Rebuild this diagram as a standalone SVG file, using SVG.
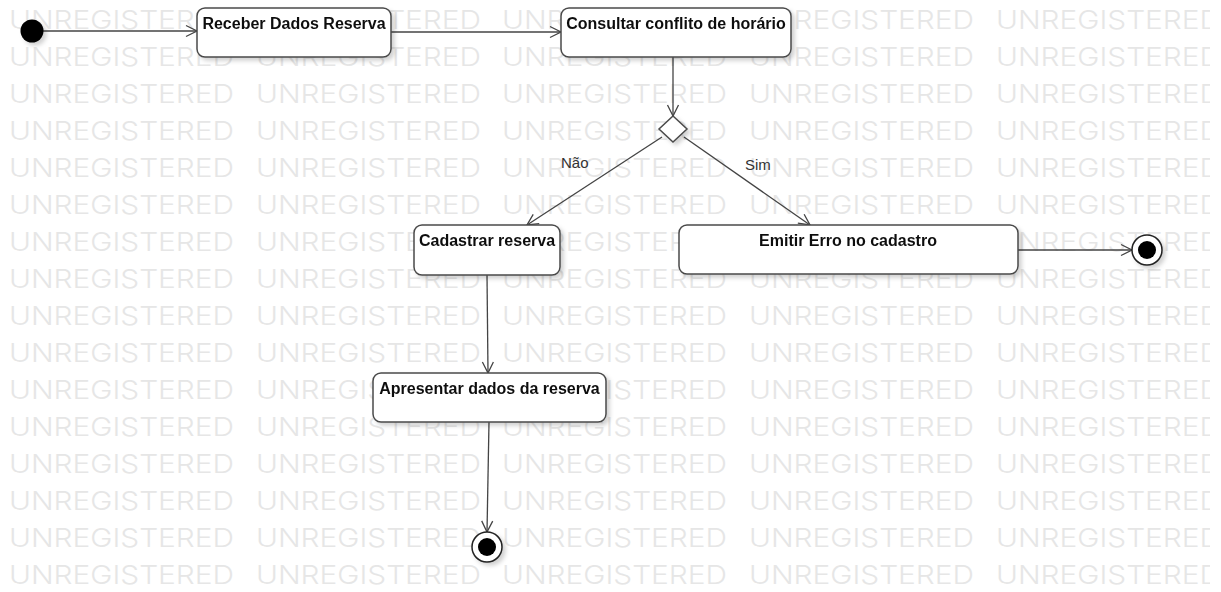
<svg xmlns="http://www.w3.org/2000/svg" xmlns:xlink="http://www.w3.org/1999/xlink" width="1221" height="592" viewBox="0 0 1221 592">
  <style>
    .wm { font-family: Inter, "Liberation Sans", Arial, sans-serif; font-weight: 300; font-size: 26px; fill: #e6e6e6; }
    .box { fill: #ffffff; stroke: #4a4a4a; stroke-width: 1.5; }
    .title { font-family: "Liberation Sans", Arial, sans-serif; font-size: 16px; font-weight: bold; fill: #111111; text-anchor: middle; }
    .label { font-family: "Liberation Sans", Arial, sans-serif; font-size: 15px; fill: #333333; }
    .edge { fill: none; stroke: #444444; stroke-width: 1.3; marker-end: url(#open-arrow); }
    .dot { fill: #000000; }
    .ring { fill: #ffffff; stroke: #222222; stroke-width: 1.5; }
  </style>
  <defs>
    <marker id="open-arrow" markerUnits="userSpaceOnUse" markerWidth="14" markerHeight="12" refX="12" refY="6" orient="auto" overflow="visible">
      <path d="M1,0.5 L12,6 L1,11.5" fill="none" stroke="#444444" stroke-width="1.3"/>
    </marker>
    <filter id="shadow" x="-20%" y="-20%" width="150%" height="160%">
      <feDropShadow dx="3" dy="3" stdDeviation="2" flood-color="#000000" flood-opacity="0.18"/>
    </filter>
    <clipPath id="sheet">
      <rect x="0" y="0" width="1210" height="592"/>
    </clipPath>
    <text id="wm-row" class="wm">
      <tspan x="9" textLength="225" lengthAdjust="spacingAndGlyphs">UNREGISTERED</tspan>
      <tspan x="256" textLength="225" lengthAdjust="spacingAndGlyphs">UNREGISTERED</tspan>
      <tspan x="502" textLength="225" lengthAdjust="spacingAndGlyphs">UNREGISTERED</tspan>
      <tspan x="749" textLength="225" lengthAdjust="spacingAndGlyphs">UNREGISTERED</tspan>
      <tspan x="996" textLength="225" lengthAdjust="spacingAndGlyphs">UNREGISTERED</tspan>
    </text>
  </defs>

  <rect x="0" y="0" width="1221" height="592" fill="#ffffff"/>

  <!-- evaluation watermark rows -->
  <g id="watermark" clip-path="url(#sheet)">
    <use xlink:href="#wm-row" y="29"/>
    <use xlink:href="#wm-row" y="66"/>
    <use xlink:href="#wm-row" y="103"/>
    <use xlink:href="#wm-row" y="140"/>
    <use xlink:href="#wm-row" y="177"/>
    <use xlink:href="#wm-row" y="214"/>
    <use xlink:href="#wm-row" y="251"/>
    <use xlink:href="#wm-row" y="288"/>
    <use xlink:href="#wm-row" y="325"/>
    <use xlink:href="#wm-row" y="362"/>
    <use xlink:href="#wm-row" y="399"/>
    <use xlink:href="#wm-row" y="436"/>
    <use xlink:href="#wm-row" y="473"/>
    <use xlink:href="#wm-row" y="510"/>
    <use xlink:href="#wm-row" y="547"/>
    <use xlink:href="#wm-row" y="584"/>
  </g>

  <!-- transitions -->
  <g id="connectors">
    <path class="edge" d="M43,31 L197,31"/>
    <path class="edge" d="M391,32 L561,32"/>
    <path class="edge" d="M673,57 L673,116"/>
    <path class="edge" d="M662,137 L527,225"/>
    <path class="edge" d="M684,137 L810,225"/>
    <path class="edge" d="M487,275 L488,373"/>
    <path class="edge" d="M489,422 L487,532"/>
    <path class="edge" d="M1018,250 L1132,250"/>
    <text class="label" x="561" y="168">Não</text>
    <text class="label" x="745" y="170">Sim</text>
  </g>

  <g id="start" filter="url(#shadow)">
    <circle class="dot" cx="32" cy="31" r="11.5"/>
  </g>

  <g id="receber-dados-reserva" filter="url(#shadow)">
    <rect class="box" x="197" y="8" width="194" height="49" rx="8"/>
    <text class="title" x="294" y="29">Receber Dados Reserva</text>
  </g>

  <g id="consultar-conflito" filter="url(#shadow)">
    <rect class="box" x="561" y="8" width="230" height="49" rx="8"/>
    <text class="title" x="676" y="29">Consultar conflito de horário</text>
  </g>

  <g id="decisao" filter="url(#shadow)">
    <polygon class="box" points="673,116 687,129 673,142 659,129"/>
  </g>

  <g id="cadastrar-reserva" filter="url(#shadow)">
    <rect class="box" x="414" y="225" width="146" height="50" rx="8"/>
    <text class="title" x="487" y="246">Cadastrar reserva</text>
  </g>

  <g id="emitir-erro" filter="url(#shadow)">
    <rect class="box" x="679" y="225" width="339" height="49" rx="8"/>
    <text class="title" x="848" y="246">Emitir Erro no cadastro</text>
  </g>

  <g id="apresentar-dados" filter="url(#shadow)">
    <rect class="box" x="373" y="373" width="233" height="49" rx="8"/>
    <text class="title" x="489.5" y="394">Apresentar dados da reserva</text>
  </g>

  <g id="fim-erro" filter="url(#shadow)">
    <circle class="ring" cx="1147" cy="250" r="15"/>
    <circle class="dot" cx="1147" cy="250" r="9"/>
  </g>

  <g id="fim-reserva" filter="url(#shadow)">
    <circle class="ring" cx="487" cy="547" r="15"/>
    <circle class="dot" cx="487" cy="547" r="9"/>
  </g>
</svg>
